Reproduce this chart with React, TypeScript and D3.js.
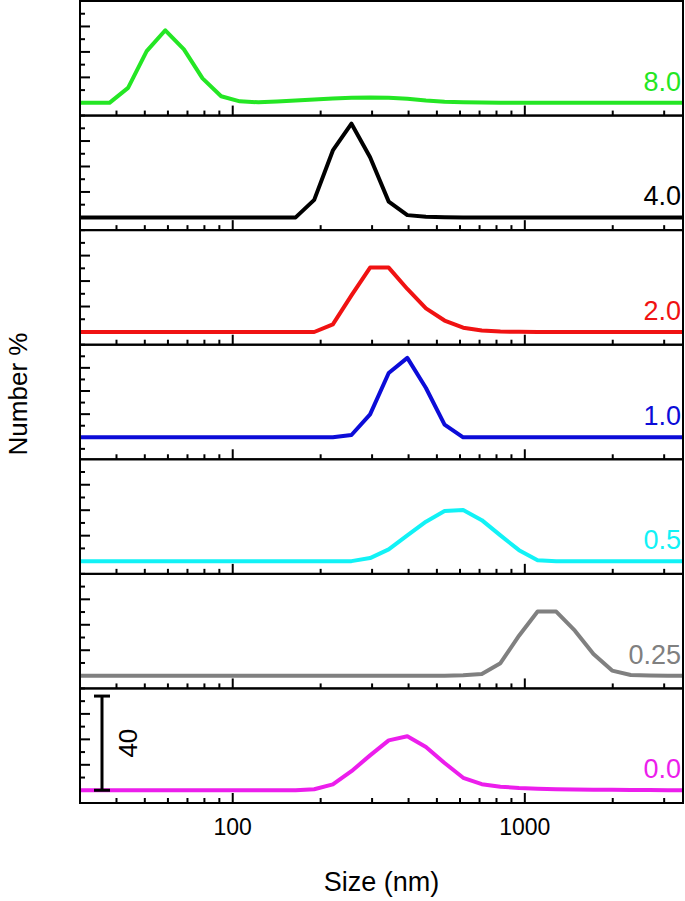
import React, { FC, useMemo } from "react";
import * as d3 from "d3";

// DLS size bins (nm)
const sizes = [
    28.21, 32.67, 37.84, 43.82, 50.75, 58.77, 68.06, 78.82, 91.28, 105.7, 122.4,
    141.8, 164.2, 190.1, 220.2, 255.0, 295.3, 342.0, 396.1, 458.7, 531.2, 615.1,
    712.4, 825.0, 955.4, 1106, 1281, 1484, 1718, 1990, 2305, 2669, 3091, 3580,
];

// number % per bin, one array per sample
const dist80 = [
    0, 0, 0, 5.9, 20.3, 28.5, 21, 9.6, 2.6, 0.6, 0.2, 0.5, 0.9, 1.3, 1.7, 2.0,
    2.1, 2.0, 1.6, 0.9, 0.4, 0.2, 0.1, 0.05, 0, 0, 0, 0, 0, 0, 0, 0, 0, 0,
];
const dist40 = [
    0, 0, 0, 0, 0, 0, 0, 0, 0, 0, 0, 0, 0, 6.9, 26.3, 36.8, 23.6, 6.2, 0.9, 0.3,
    0.1, 0, 0, 0, 0, 0, 0, 0, 0, 0, 0, 0, 0, 0,
];
const dist20 = [
    0, 0, 0, 0, 0, 0, 0, 0, 0, 0, 0, 0, 0, 0, 3.0, 14.4, 25.3, 25.3, 16.9, 9.3,
    4.5, 1.7, 0.6, 0.2, 0.05, 0, 0, 0, 0, 0, 0, 0, 0, 0,
];
const dist10 = [
    0, 0, 0, 0, 0, 0, 0, 0, 0, 0, 0, 0, 0, 0, 0, 1.0, 9.9, 27.8, 34.3, 21.3, 5.5,
    0, 0, 0, 0, 0, 0, 0, 0, 0, 0, 0, 0, 0,
];
const dist05 = [
    0, 0, 0, 0, 0, 0, 0, 0, 0, 0, 0, 0, 0, 0, 0, 0, 1.2, 4.6, 10.1, 15.5, 19.7,
    20.1, 16.1, 10.1, 4.3, 0.3, 0, 0, 0, 0, 0, 0, 0, 0,
];
const dist025 = [
    0, 0, 0, 0, 0, 0, 0, 0, 0, 0, 0, 0, 0, 0, 0, 0, 0, 0, 0, 0, 0, 0.2, 0.7, 4.9,
    15.7, 25.2, 25.2, 17.7, 8.5, 2.0, 0.3, 0.1, 0, 0,
];
const dist00 = [
    0, 0, 0, 0, 0, 0, 0, 0, 0, 0, 0, 0, 0, 0.4, 2.3, 7.5, 13.7, 19.6, 21.2, 17.0,
    10.7, 4.9, 2.4, 1.4, 0.9, 0.6, 0.4, 0.3, 0.25, 0.2, 0.15, 0.1, 0.05, 0,
];

const series = [dist80, dist40, dist20, dist10, dist05, dist025, dist00];
const labels = ["8.0", "4.0", "2.0", "1.0", "0.5", "0.25", "0.0"];
const colors = [
    "#24e624",
    "#000000",
    "#f01212",
    "#0c0cd8",
    "#12f2f6",
    "#808080",
    "#ec1eec",
];
const yMins = [-5, -5, -5, -9.5, -5, -5, -5];
const yMax = 40;
const xTickLabels = [100, 1000];
const scaleBarValue = 40;

const width = 685;
const height = 901;
const left = 80;
const right = 683;
const top = 1;
const bottom = 803;
const font = "'Liberation Sans', Arial, Helvetica, sans-serif";

const App: FC = () => {
    const x = useMemo(
        () => d3.scaleLog().domain([30, 3480]).range([left, right]),
        []
    );
    const panelH = (bottom - top) / series.length;
    const xTicks = x.ticks().filter((t: number) => t > 30 && t < 3480);

    return (
        <svg
            width={width}
            height={height}
            style={{ position: "absolute", top: 0, left: 0, background: "#fff" }}
            fontFamily={font}
        >
            <defs>
                <clipPath id="plotClip">
                    <rect x={left} y={top} width={right - left} height={bottom - top} />
                </clipPath>
            </defs>
            {series.map((vals, i) => {
                const y0 = top + i * panelH;
                const y = d3
                    .scaleLinear()
                    .domain([yMins[i], yMax])
                    .range([y0 + panelH, y0]);
                const line = d3
                    .line<number>()
                    .x((_d: number, j: number) => x(sizes[j]))
                    .y((d: number) => y(d));
                const yTicks = d3.range(Math.ceil(yMins[i] / 5) * 5, yMax, 5);
                return (
                    <g key={i}>
                        {yTicks.map((t: number) => (
                            <line
                                key={t}
                                x1={left}
                                x2={left + (t % 10 === 0 ? 10 : 5)}
                                y1={y(t)}
                                y2={y(t)}
                                stroke="#000"
                                strokeWidth={2}
                            />
                        ))}
                        {xTicks.map((t: number) => {
                            const major = xTickLabels.includes(t);
                            return (
                                <line
                                    key={t}
                                    x1={x(t)}
                                    x2={x(t)}
                                    y1={y0 + panelH}
                                    y2={y0 + panelH - (major ? 10 : 5)}
                                    stroke="#000"
                                    strokeWidth={2}
                                />
                            );
                        })}
                        <path
                            d={line(vals) || ""}
                            fill="none"
                            stroke={colors[i]}
                            strokeWidth={4}
                            strokeLinejoin="round"
                            clipPath="url(#plotClip)"
                        />
                        <text
                            x={right - 2}
                            y={y(0) - 12}
                            textAnchor="end"
                            fontSize={27}
                            fill={colors[i]}
                        >
                            {labels[i]}
                        </text>
                        <rect
                            x={left}
                            y={y0}
                            width={right - left}
                            height={panelH}
                            fill="none"
                            stroke="#000"
                            strokeWidth={2}
                        />
                        {i === series.length - 1 && (
                            <g>
                                <line
                                    x1={left + 22}
                                    x2={left + 22}
                                    y1={y(0)}
                                    y2={y(scaleBarValue - 3)}
                                    stroke="#000"
                                    strokeWidth={3}
                                />
                                <line
                                    x1={left + 14}
                                    x2={left + 30}
                                    y1={y(0)}
                                    y2={y(0)}
                                    stroke="#000"
                                    strokeWidth={3}
                                />
                                <line
                                    x1={left + 14}
                                    x2={left + 30}
                                    y1={y(scaleBarValue - 3)}
                                    y2={y(scaleBarValue - 3)}
                                    stroke="#000"
                                    strokeWidth={3}
                                />
                                <text
                                    transform={`translate(${left + 57}, ${y(
                                        (scaleBarValue - 3) / 2
                                    )}) rotate(-90)`}
                                    textAnchor="middle"
                                    fontSize={26}
                                >
                                    {scaleBarValue}
                                </text>
                            </g>
                        )}
                    </g>
                );
            })}
            {xTickLabels.map((t) => (
                <text key={t} x={x(t)} y={835} textAnchor="middle" fontSize={23}>
                    {t}
                </text>
            ))}
            <text x={(left + right) / 2} y={891} textAnchor="middle" fontSize={27}>
                Size (nm)
            </text>
            <text
                transform={`translate(27, ${(top + bottom) / 2 - 8}) rotate(-90)`}
                textAnchor="middle"
                fontSize={26}
            >
                Number %
            </text>
        </svg>
    );
};

export default App;
